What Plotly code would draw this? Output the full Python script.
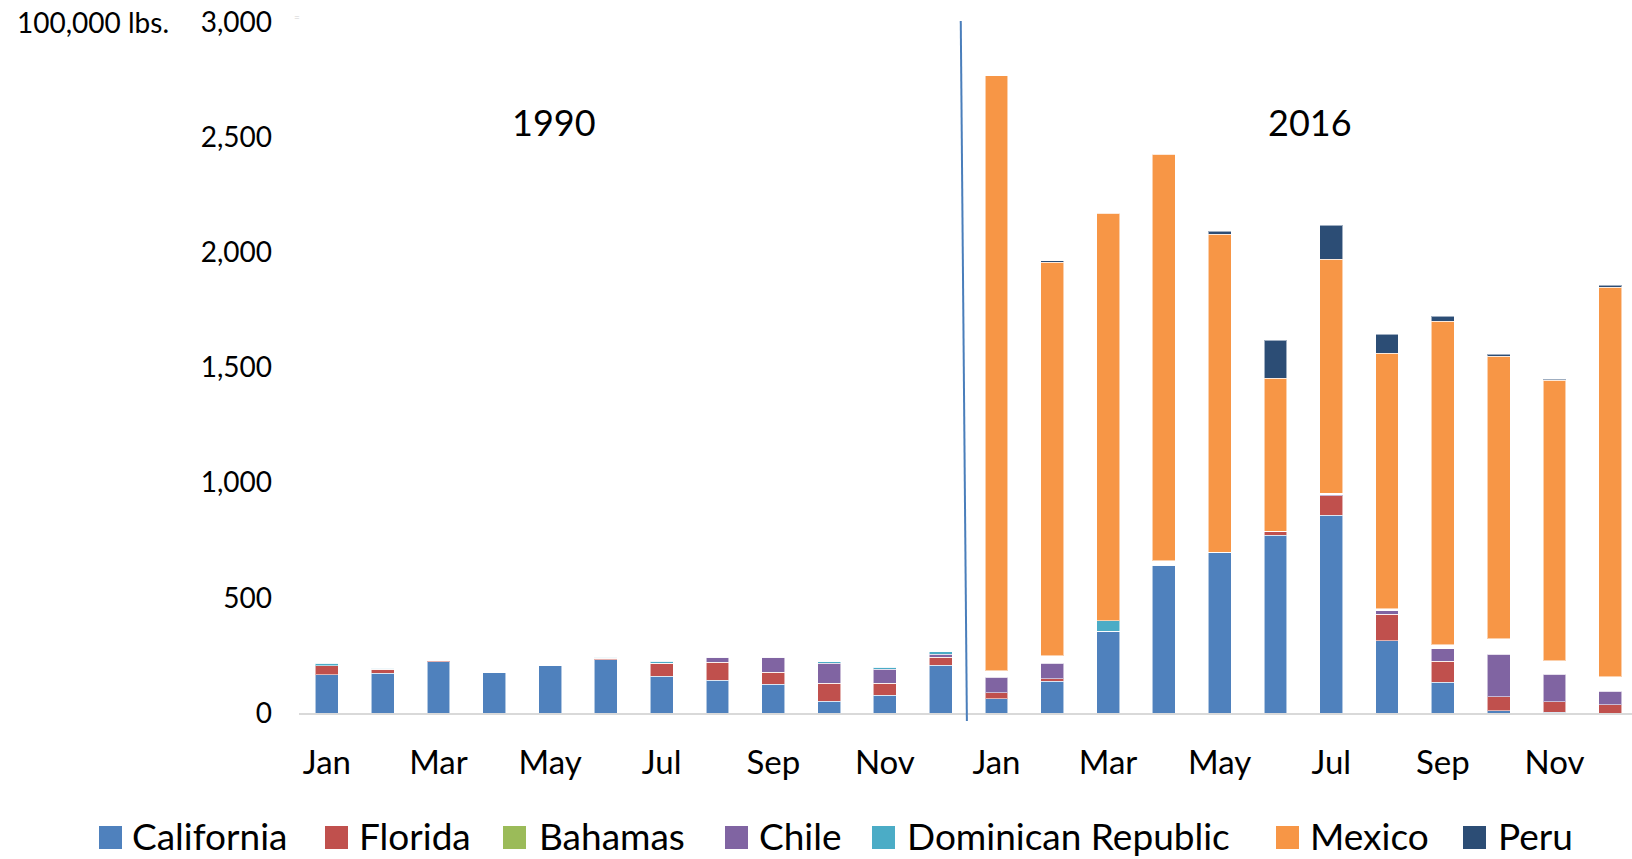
import plotly.graph_objects as go

# ---------------- data (100,000 lbs.) ----------------
months = ["Jan", "Feb", "Mar", "Apr", "May", "Jun",
          "Jul", "Aug", "Sep", "Oct", "Nov", "Dec"]
years = ["1990", "2016"]
categories = [f"{m} {y}" for y in years for m in months]

#                1990: Jan ... Dec                                     2016: Jan ... Dec
california = [166, 173, 222, 178, 208, 231, 159, 143, 124, 51, 77, 207,
              61, 137, 355, 642, 695, 772, 858, 313, 133, 10, 3, 0]
florida = [39, 16, 4, 0, 0, 7, 58, 78, 53, 78, 52, 36,
           26, 12, 0, 0, 0, 16, 85, 116, 92, 61, 45, 36]
bahamas = [0, 0, 0, 0, 0, 0, 0, 0, 0, 0, 0, 0,
           0, 0, 0, 0, 0, 0, 0, 0, 0, 0, 0, 0]
chile = [0, 0, 0, 0, 0, 0, 0, 22, 65, 87, 61, 12,
         69, 68, 0, 0, 0, 0, 5, 14, 54, 185, 121, 58]
dominican = [12, 5, 0, 0, 0, 4, 7, 0, 0, 6, 9, 12,
             0, 0, 45, 0, 0, 0, 0, 0, 0, 0, 0, 0]
unlabelled = [0, 0, 0, 0, 0, 0, 0, 0, 0, 0, 0, 0,
              27, 31, 0, 18, 3, 2, 7, 9, 17, 66, 58, 63]
mexico = [0, 0, 0, 0, 0, 0, 0, 0, 0, 0, 0, 0,
          2584, 1710, 1769, 1765, 1380, 664, 1015, 1110, 1405, 1227, 1218, 1691]
peru = [0, 0, 0, 0, 0, 0, 0, 0, 0, 0, 0, 0,
        0, 5, 0, 0, 13, 164, 147, 82, 21, 9, 4, 9]

y_ticks = [0, 500, 1000, 1500, 2000, 2500, 3000]

series = [
    ("California", california, "#4f81bd"),
    ("Florida", florida, "#c0504d"),
    ("Bahamas", bahamas, "#9bbb59"),
    ("Chile", chile, "#8064a2"),
    ("Dominican Republic", dominican, "#4bacc6"),
    ("Other (unlabelled)", unlabelled, "rgba(0,0,0,0)"),
    ("Mexico", mexico, "#f79646"),
    ("Peru", peru, "#2c4d75"),
]

# ---------------- layout geometry (pixels) ----------------
W, H = 1632, 859
L, R, T, B = 299, 0, 22, 146
PW, PH = W - L - R, H - T - B
FONT = "Lato, 'Open Sans', sans-serif"


def px2x(px):
    return (px - L) / PW


def px2y(py):
    return (H - B - py) / PH


fig = go.Figure()
for name, vals, color in series:
    hidden = color.startswith("rgba(0,0,0,0")
    fig.add_trace(go.Bar(
        x=categories, y=vals, name=name,
        marker=dict(color=color,
                    line=dict(width=0 if hidden else 1,
                              color="rgba(255,255,255,0.55)")),
        showlegend=False,
    ))

# manual legend (Excel style)
legend_pos = [(99, 132), (325, 359), (503, 539), (725, 759),
              (872, 907), (1276, 1310), (1463, 1498)]
legend_series = [s for s in series if not s[2].startswith("rgba(0,0,0,0")]
shapes = []
annotations = []
for (sq_x, tx_x), (name, _, color) in zip(legend_pos, legend_series):
    shapes.append(dict(type="rect", xref="paper", yref="paper",
                       x0=px2x(sq_x), x1=px2x(sq_x + 23),
                       y0=px2y(849), y1=px2y(826),
                       fillcolor=color, line=dict(width=0)))
    annotations.append(dict(text=name, xref="paper", yref="paper",
                            x=px2x(tx_x - 2), y=px2y(836),
                            xanchor="left", yanchor="middle", showarrow=False,
                            font=dict(size=37, color="#000000", family=FONT)))

# separator line between the two years
shapes.append(dict(type="line", xref="x", yref="paper",
                   x0=11.36, x1=11.47, y0=px2y(21), y1=px2y(721),
                   line=dict(color="#4a7ebb", width=2)))

annotations += [
    dict(text="100,000 lbs.", xref="paper", yref="paper", x=px2x(15), y=px2y(22),
         xanchor="left", yanchor="middle", showarrow=False,
         font=dict(size=28, color="#000000", family=FONT)),
    dict(text=years[0], xref="paper", yref="paper", x=px2x(554), y=px2y(122),
         xanchor="center", yanchor="middle", showarrow=False,
         font=dict(size=36, color="#000000", family=FONT)),
    dict(text=years[1], xref="paper", yref="paper", x=px2x(1310), y=px2y(122),
         xanchor="center", yanchor="middle", showarrow=False,
         font=dict(size=36, color="#000000", family=FONT)),
    dict(text="=", xref="paper", yref="paper", x=px2x(297), y=px2y(17),
         xanchor="center", yanchor="middle", showarrow=False,
         font=dict(size=10, color="#d0d0d0", family=FONT)),
]

fig.update_layout(
    width=W, height=H,
    margin=dict(l=L, r=R, t=T, b=B, pad=0),
    barmode="stack", bargap=0.59,
    plot_bgcolor="white", paper_bgcolor="white",
    font=dict(family=FONT, color="#000000"),
    showlegend=False,
    shapes=shapes, annotations=annotations,
    xaxis=dict(type="category", range=[-0.5, 23.39],
               tickmode="array", tickvals=categories[::2],
               ticktext=[c.split(" ")[0] for c in categories[::2]],
               ticks="", showgrid=False, zeroline=False,
               showline=True, linecolor="#d9d9d9", linewidth=2,
               tickfont=dict(size=33, family=FONT, color="#000000"),
               ticklabelstandoff=19),
    yaxis=dict(range=[0, 3000], tickmode="array", tickvals=y_ticks,
               tickformat=",", ticks="", showgrid=False, zeroline=False,
               showline=False,
               tickfont=dict(size=28, family=FONT, color="#000000"),
               ticklabelstandoff=26),
)

fig.write_html("out.html", config={"displayModeBar": False},
               post_script="document.body.style.margin='0';document.body.style.overflow='hidden';")
